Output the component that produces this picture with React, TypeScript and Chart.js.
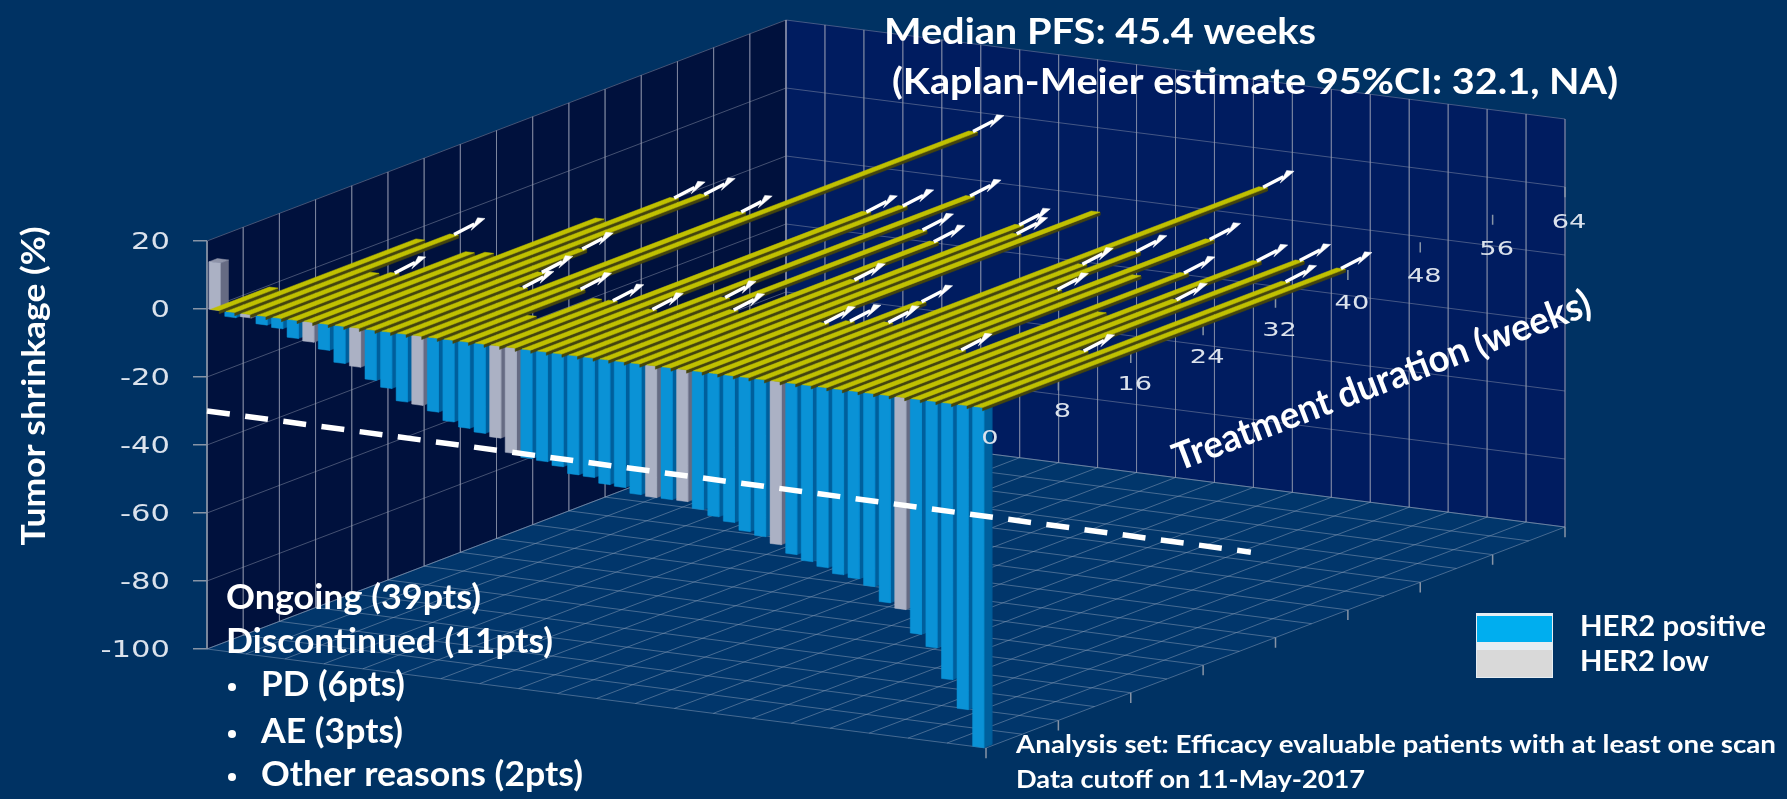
import { useEffect, useRef } from "react";
import { Chart, registerables } from "chart.js";

Chart.register(...registerables);

// Best change in tumour size per patient, ordered along the patient axis
const shrinkage = [
  14, -1.5, -1, -2.5, -3, -5.3, -5.8, -7.6, -10.9, -11.4,
  -14.7, -16.5, -19.9, -20.3, -21.7, -24, -25.3, -26.2, -27, -31,
  -31.9, -32.2, -33.1, -34.9, -35.1, -36.6, -36.9, -38.4, -38.7, -38.7,
  -38.7, -40.5, -42, -43.1, -45.2, -46.1, -47.9, -50.2, -51.7, -52.9,
  -54.4, -55, -56.7, -60.9, -62.3, -69, -72.4, -81.2, -89.4, -100,
];

// Weeks on treatment per patient
const duration = [
  6.5, 21, 23, 12.5, 13, 19.6, 20, 30.5, 37, 38.6,
  23.4, 17.2, 13.4, 35.8, 59.7, 14.6, 7.5, 13, 13, 39.3,
  41.6, 12.2, 45.6, 16.8, 36.9, 14.3, 34.7, 24.2, 40.7, 38.7,
  45.7, 14, 15.1, 21.3, 15.9, 55.6, 33.9, 38.1, 27.7, 42.8,
  33, 11.9, 34.8, 24, 39.4, 28.8, 40.7, 15.1, 35.7, 40.1,
];

const her2LowPatients = [0, 2, 6, 9, 13, 18, 19, 28, 30, 36, 44];
const discontinuedPatients = [0, 1, 3, 5, 6, 7, 16, 17, 30, 40, 43];

const shrinkageTicks = [20, 0, -20, -40, -60, -80, -100];
const durationTicks = [0, 8, 16, 24, 32, 40, 48, 56, 64];
const cutoffLine = { patient: [0, 67], value: [-30, -32.5] };

const legendItems = [
  { label: "HER2 positive", color: "#00aeef" },
  { label: "HER2 low", color: "#d9d9d9" },
];

const statusLines = [
  { text: "Ongoing (39pts)", x: 226, y: 598, width: 255, bullet: false },
  { text: "Discontinued (11pts)", x: 226, y: 642, width: 327, bullet: false },
  { text: "PD (6pts)", x: 261, y: 685, width: 144, bullet: true },
  { text: "AE (3pts)", x: 261, y: 732, width: 142, bullet: true },
  { text: "Other reasons (2pts)", x: 261, y: 775, width: 322, bullet: true },
];

// Layout of the oblique box, in canvas pixels
const WIDTH = 1787;
const HEIGHT = 799;
const AXIS_LEFT = 207;
const ZERO_Y = 309;
const PX_PER_PATIENT = 15.58;
const PX_PER_PERCENT = 3.4;
const PATIENTS = 50;
const MAX_WEEKS = 64;
const WEEK_DX = 579 / MAX_WEEKS;
const WEEK_DY = 221 / MAX_WEEKS;
const PATIENT_DY = 1.98;
const FLOOR = -100;
const CEILING = 20;
const BAR_DEPTH = 0.9;

// Oblique projection of (patient, week, percent) onto the two chart scales
const project = (patient: number, week: number, value: number) => ({
  x: patient + (week * WEEK_DX) / PX_PER_PATIENT,
  y: value + ((week * WEEK_DY) - patient * PATIENT_DY) / PX_PER_PERCENT,
});

const COLORS = {
  page: "#003263",
  leftWall: "#00113d",
  backWall: "#001c60",
  floor: "#01366b",
  wallGrid: "rgba(150,158,178,0.45)",
  floorGrid: "rgba(140,160,185,0.5)",
  tick: "#8794a6",
  blueFront: "#0a92d6",
  blueSide: "#005f9c",
  grayFront: "#abb1c4",
  graySide: "#666b83",
  grayTop: "#8e93a8",
  yellow: "#c0c000",
  olive: "#44440f",
  text: "#ffffff",
  axisText: "#dbe2ec",
};

type P = { x: number; y: number };

const polygon = (points: P[], color: string) => ({
  data: [...points, points[0]],
  showLine: true,
  fill: "shape",
  backgroundColor: color,
  borderColor: color,
  borderWidth: 0.5,
  pointRadius: 0,
  clip: false,
});

const stroke = (points: P[], color: string, width = 1, dash: number[] = []) => ({
  data: points,
  showLine: true,
  fill: false,
  borderColor: color,
  borderWidth: width,
  borderDash: dash,
  pointRadius: 0,
  clip: false,
});

function buildDatasets() {
  const out: any[] = [];

  // Walls and floor of the box
  out.push(polygon([project(0, 0, CEILING), project(0, MAX_WEEKS, CEILING), project(0, MAX_WEEKS, FLOOR), project(0, 0, FLOOR)], COLORS.leftWall));
  out.push(polygon([project(0, MAX_WEEKS, CEILING), project(PATIENTS, MAX_WEEKS, CEILING), project(PATIENTS, MAX_WEEKS, FLOOR), project(0, MAX_WEEKS, FLOOR)], COLORS.backWall));
  out.push(polygon([project(0, 0, FLOOR), project(0, MAX_WEEKS, FLOOR), project(PATIENTS, MAX_WEEKS, FLOOR), project(PATIENTS, 0, FLOOR)], COLORS.floor));

  // Grid lines
  for (const value of shrinkageTicks) {
    out.push(stroke([project(0, 0, value), project(0, MAX_WEEKS, value), project(PATIENTS, MAX_WEEKS, value)], COLORS.wallGrid));
  }
  for (let week = 0; week <= MAX_WEEKS; week += 4) {
    out.push(stroke([project(0, week, CEILING), project(0, week, FLOOR)], COLORS.wallGrid));
    out.push(stroke([project(0, week, FLOOR), project(PATIENTS, week, FLOOR)], COLORS.floorGrid));
  }
  for (let patient = 0; patient <= PATIENTS; patient += 2.5) {
    out.push(stroke([project(patient, MAX_WEEKS, CEILING), project(patient, MAX_WEEKS, FLOOR)], COLORS.wallGrid));
    out.push(stroke([project(patient, 0, FLOOR), project(patient, MAX_WEEKS, FLOOR)], COLORS.floorGrid));
  }

  // Y axis line and the duration tick marks, on the zero plane and on the floor
  out.push(stroke([project(0, 0, CEILING), project(0, 0, FLOOR)], COLORS.tick, 1.5));
  for (const week of durationTicks) {
    out.push(stroke([project(PATIENTS, week, 0), project(PATIENTS, week, -3)], COLORS.tick, 1.5));
    out.push(stroke([project(PATIENTS, week, FLOOR), project(PATIENTS, week, FLOOR - 3)], COLORS.tick, 1.5));
  }

  // Shrinkage bars, front to the right
  shrinkage.forEach((value, i) => {
    const low = her2LowPatients.includes(i);
    const p0 = i + 0.14;
    const p1 = i + 0.86;
    out.push(polygon([project(p1, 0, 0), project(p1, BAR_DEPTH, 0), project(p1, BAR_DEPTH, value), project(p1, 0, value)], low ? COLORS.graySide : COLORS.blueSide));
    if (value > 0) {
      out.push(polygon([project(p0, 0, value), project(p1, 0, value), project(p1, BAR_DEPTH, value), project(p0, BAR_DEPTH, value)], COLORS.grayTop));
    }
    out.push(polygon([project(p0, 0, 0), project(p1, 0, 0), project(p1, 0, value), project(p0, 0, value)], low ? COLORS.grayFront : COLORS.blueFront));
  });

  // Treatment duration bars lying on the zero plane
  duration.forEach((weeks, i) => {
    const p0 = i + 0.22;
    const p1 = i + 0.78;
    out.push(polygon([project(p1, 0, 0), project(p1, weeks, 0), project(p1, weeks, -0.95), project(p1, 0, -0.95)], COLORS.olive));
    out.push(polygon([project(p0, 0, 0), project(p1, 0, 0), project(p1, weeks, 0), project(p0, weeks, 0)], COLORS.yellow));
  });

  // Arrows on patients still on treatment
  const arrowDx = 31 / PX_PER_PATIENT;
  const arrowDy = 16 / PX_PER_PERCENT;
  const nx = 0.889;
  const ny = 0.459;
  duration.forEach((weeks, i) => {
    if (discontinuedPatients.includes(i)) return;
    const tail = project(i + 0.5, weeks, 0);
    const tip = { x: tail.x + arrowDx, y: tail.y + arrowDy };
    const base = { x: tip.x - (12 * nx) / PX_PER_PATIENT, y: tip.y - (12 * ny) / PX_PER_PERCENT };
    const halfX = (7 * ny) / PX_PER_PATIENT;
    const halfY = (7 * nx) / PX_PER_PERCENT;
    out.push(stroke([tail, base], "#ffffff", 3.4));
    out.push(polygon([tip, { x: base.x + halfX, y: base.y + halfY }, { x: base.x - halfX, y: base.y - halfY }], "#ffffff"));
  });

  // 30% reduction reference line
  out.push(
    stroke(
      [
        project(cutoffLine.patient[0], 0, cutoffLine.value[0]),
        project(cutoffLine.patient[1], 0, cutoffLine.value[1]),
      ],
      "#ffffff",
      5.5,
      [23, 15.5],
    ),
  );

  // Chart.js paints the first dataset last
  return out.reverse();
}

function fitted(
  ctx: CanvasRenderingContext2D,
  text: string,
  x: number,
  y: number,
  width: number,
  font: string,
  color: string,
  angle = 0,
  align: CanvasTextAlign = "left",
) {
  ctx.save();
  ctx.font = font;
  ctx.fillStyle = color;
  ctx.textBaseline = "middle";
  ctx.textAlign = align;
  ctx.translate(x, y);
  ctx.rotate(angle);
  ctx.scale(width / ctx.measureText(text).width, 1);
  ctx.fillText(text, 0, 0);
  ctx.restore();
}

function stretched(ctx: CanvasRenderingContext2D, text: string, x: number, y: number, font: string, factor: number, align: CanvasTextAlign) {
  ctx.save();
  ctx.font = font;
  ctx.fillStyle = COLORS.axisText;
  ctx.textBaseline = "middle";
  ctx.textAlign = align;
  ctx.translate(x, y);
  ctx.scale(factor, 1);
  ctx.fillText(text, 0, 0);
  ctx.restore();
}

const annotations = {
  id: "annotations",
  afterDatasetsDraw(chart: any) {
    const { ctx, scales } = chart;

    // Value labels of the shrinkage axis
    for (const tick of scales.y.ticks) {
      stretched(ctx, String(tick.value), 170, scales.y.getPixelForValue(tick.value) + 2, "23px 'DejaVu Sans'", 1.33, "right");
    }

    // Labels of the duration axis, below its tick marks
    for (const week of durationTicks) {
      const at = project(PATIENTS, week, 0);
      stretched(ctx, String(week), scales.x.getPixelForValue(at.x) + 4, scales.y.getPixelForValue(at.y) + 31 + week * 0.08, "20px 'DejaVu Sans'", 1.36, "center");
    }

    const bold = "700 37px Lato";
    fitted(ctx, "Median PFS: 45.4 weeks", 884, 32, 432, bold, COLORS.text);
    fitted(ctx, "(Kaplan-Meier estimate 95%CI: 32.1, NA)", 892, 82, 726, bold, COLORS.text);
    fitted(ctx, "Tumor shrinkage (%)", 34, 386, 319, "700 33px Lato", COLORS.text, -Math.PI / 2, "center");
    fitted(ctx, "Treatment duration (weeks)", 1382, 381, 444, "700 38px Lato", COLORS.text, -0.363, "center");

    for (const line of statusLines) {
      if (line.bullet) {
        ctx.fillStyle = COLORS.text;
        ctx.beginPath();
        ctx.arc(232, line.y + 2, 4, 0, Math.PI * 2);
        ctx.fill();
      }
      fitted(ctx, line.text, line.x, line.y, line.width, "700 35px Lato", COLORS.text);
    }

    // Legend
    ctx.fillStyle = "#e6edf2";
    ctx.fillRect(1476, 613, 77, 65);
    legendItems.forEach((item, i) => {
      ctx.fillStyle = item.color;
      ctx.fillRect(1477, 616 + i * 34, 75, i === 0 ? 26 : 27);
    });
    fitted(ctx, legendItems[0].label, 1580, 627, 186, "700 28px Lato", COLORS.text);
    fitted(ctx, legendItems[1].label, 1580, 662, 129, "700 28px Lato", COLORS.text);

    fitted(ctx, "Analysis set: Efficacy evaluable patients with at least one scan", 1016, 745, 760, "700 25px Lato", COLORS.text);
    fitted(ctx, "Data cutoff on 11-May-2017", 1016, 780, 349, "700 25px Lato", COLORS.text);
  },
};

export default function App() {
  const canvasRef = useRef<HTMLCanvasElement | null>(null);

  useEffect(() => {
    if (!canvasRef.current) return;
    const chart = new Chart(canvasRef.current, {
      type: "scatter",
      data: { datasets: buildDatasets() as any },
      plugins: [annotations],
      options: {
        animation: false,
        responsive: false,
        layout: { padding: 0 },
        elements: { line: { tension: 0 } },
        plugins: { legend: { display: false }, tooltip: { enabled: false }, title: { display: false } },
        scales: {
          x: {
            type: "linear",
            display: false,
            min: 0,
            max: (WIDTH - AXIS_LEFT) / PX_PER_PATIENT,
          },
          y: {
            type: "linear",
            min: (ZERO_Y - HEIGHT) / PX_PER_PERCENT,
            max: ZERO_Y / PX_PER_PERCENT,
            afterBuildTicks: (scale: any) => {
              scale.ticks = shrinkageTicks.map((value) => ({ value }));
            },
            afterFit: (scale: any) => {
              scale.width = AXIS_LEFT;
            },
            border: { display: false },
            grid: { drawOnChartArea: false, drawTicks: true, tickLength: 14, tickColor: COLORS.tick, lineWidth: 1.5 },
            ticks: { display: false },
          },
        },
      } as any,
    });
    return () => chart.destroy();
  }, []);

  return (
    <div style={{ position: "fixed", left: 0, top: 0, width: WIDTH, height: HEIGHT, background: COLORS.page }}>
      <canvas ref={canvasRef} width={WIDTH} height={HEIGHT} style={{ display: "block" }} />
    </div>
  );
}
